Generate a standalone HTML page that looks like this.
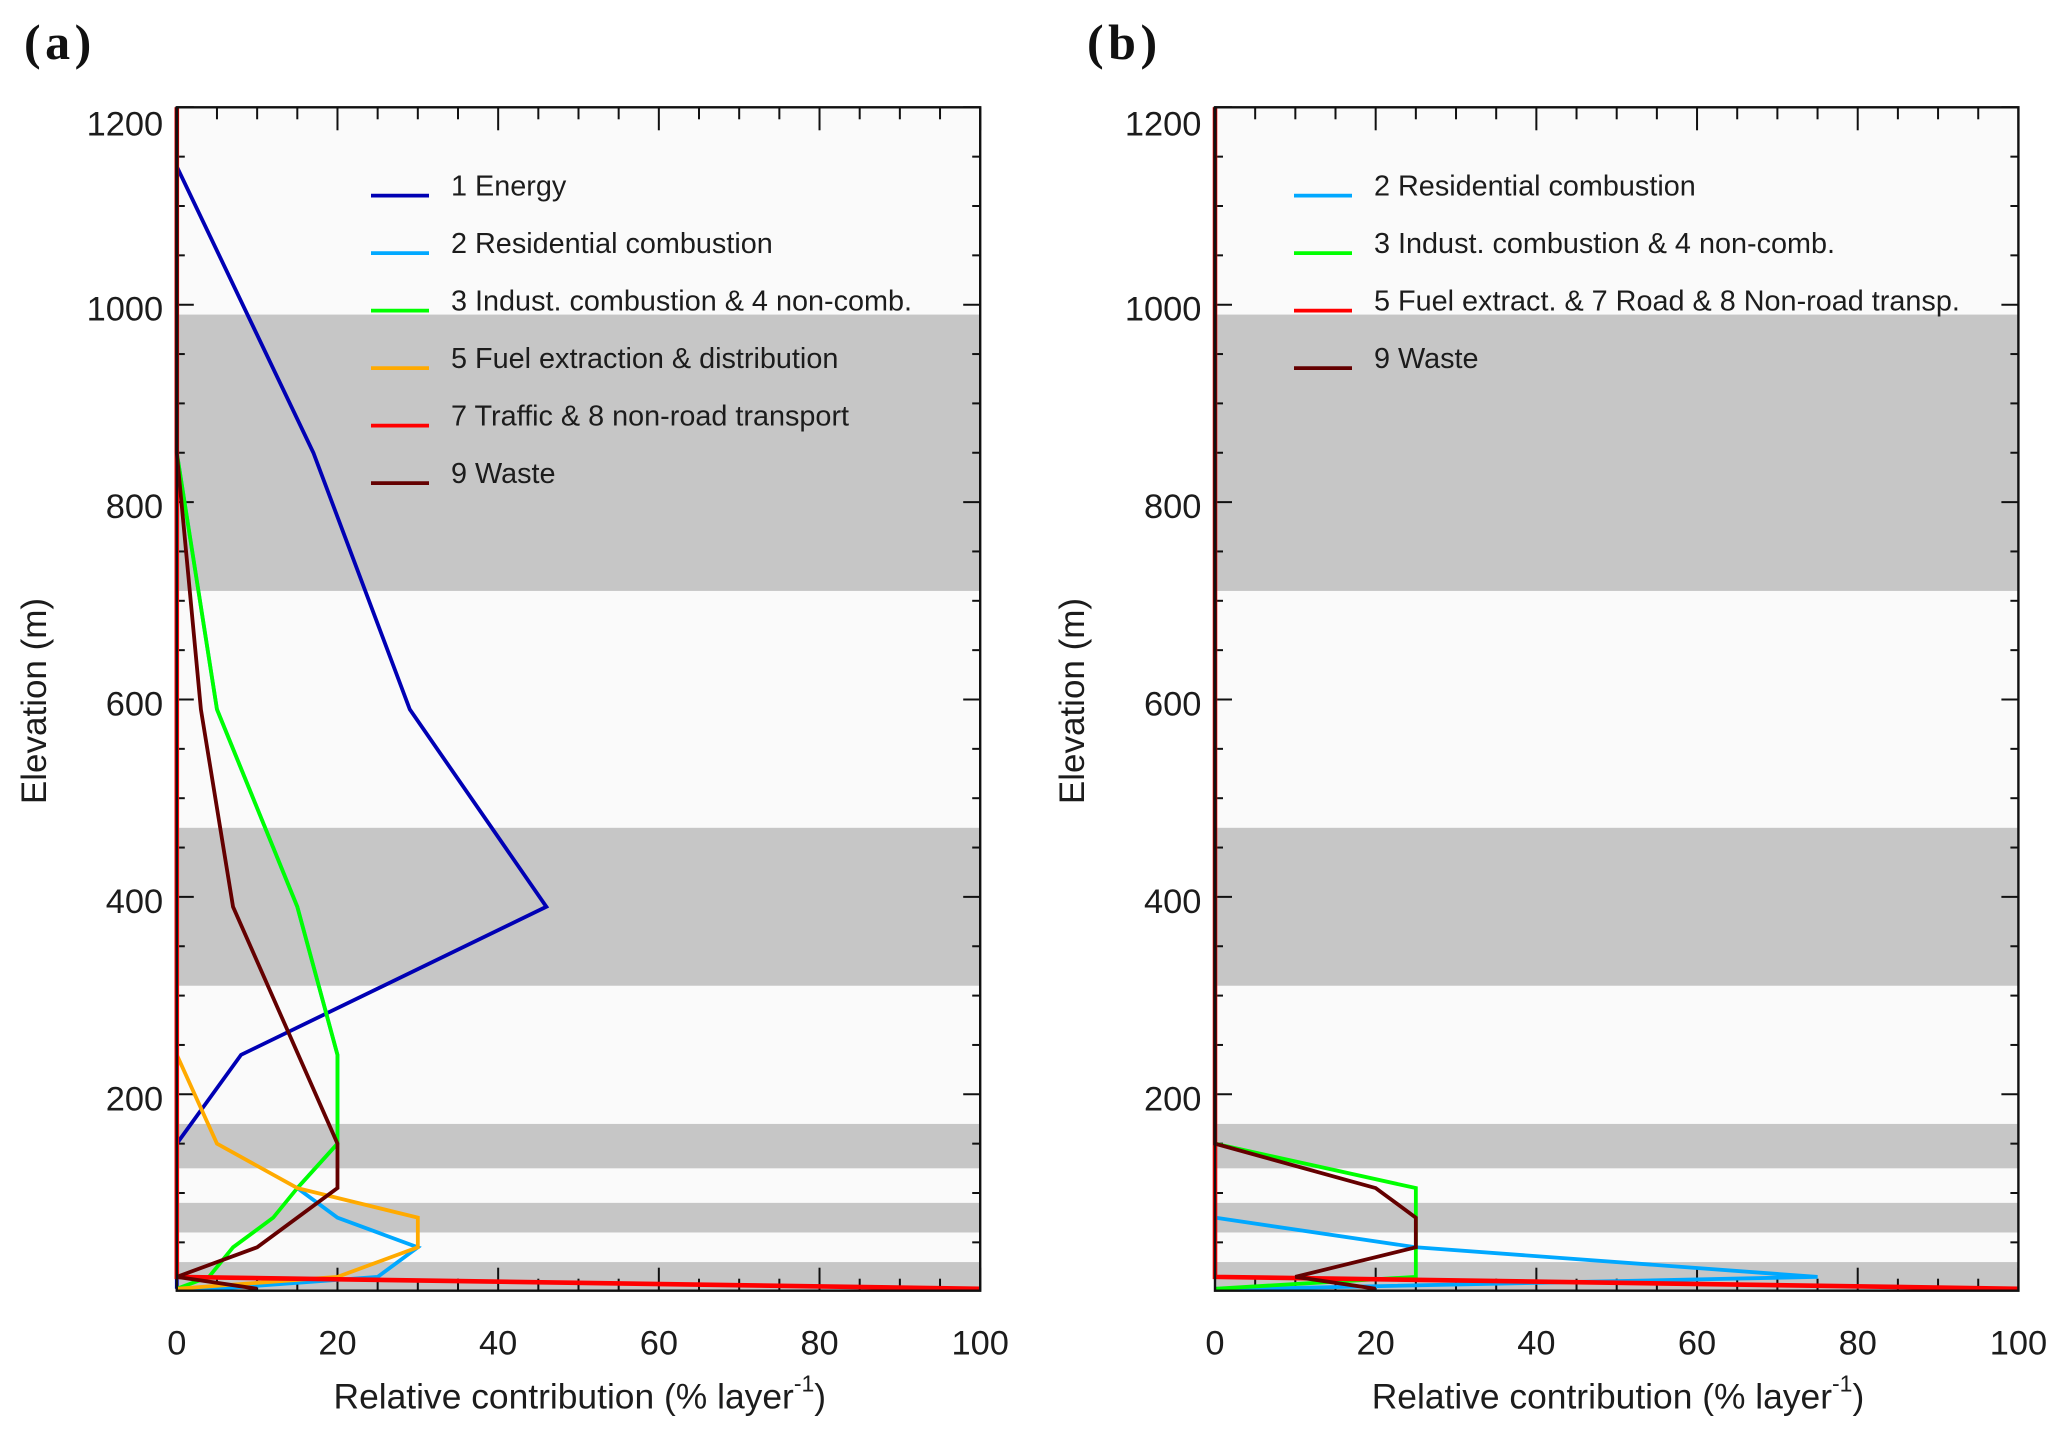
<!DOCTYPE html>
<html lang="en">
<head>
<meta charset="utf-8">
<title>Relative contribution by elevation</title>
<style>
html,body{margin:0;padding:0;background:#fff;width:2067px;height:1437px;overflow:hidden}
svg{display:block}
text{font-family:"Liberation Sans",sans-serif;fill:#1c1c1c}
</style>
</head>
<body>
<svg id="chart" xmlns="http://www.w3.org/2000/svg" width="2067" height="1437" viewBox="0 0 2067 1437"></svg>
<script>
// Shared axis data
const xMajorTicks = [0, 20, 40, 60, 80, 100];
const xMinorTicks = [5, 10, 15, 25, 30, 35, 45, 50, 55, 65, 70, 75, 85, 90, 95];
const yMajorTicks = [200, 400, 600, 800, 1000, 1200];
const yMinorTicks = [50, 100, 150, 250, 300, 350, 450, 500, 550, 650, 700, 750, 850, 900, 950, 1050, 1100, 1150];
const bandBottoms = [0, 60, 125, 310, 710];
const bandTops = [30, 90, 170, 470, 990];

// Panel (a) series: contribution (%) and elevation (m)
const aEnergyValues = [0, 17, 29, 46, 8, 0, 0];
const aEnergyElevations = [1140, 850, 590, 390, 240, 150, 3];
const aResidentialValues = [0, 5, 15, 20, 20, 15, 20, 30, 25, 5, 0];
const aResidentialElevations = [850, 590, 390, 240, 150, 105, 75, 45, 15, 3, 3];
const aIndustrialValues = [0, 5, 15, 20, 20, 15, 12, 7, 4, 0];
const aIndustrialElevations = [850, 590, 390, 240, 150, 105, 75, 45, 15, 3];
const aFuelValues = [0, 5, 15, 30, 30, 20, 0];
const aFuelElevations = [240, 150, 105, 75, 45, 15, 3];
const aTrafficValues = [0, 0, 100];
const aTrafficElevations = [1200, 15, 3];
const aWasteValues = [0, 0, 3, 7, 20, 20, 10, 0, 10];
const aWasteElevations = [1200, 850, 590, 390, 150, 105, 45, 15, 3];

// Panel (b) series
const bResidentialValues = [0, 25, 75, 5, 0];
const bResidentialElevations = [75, 45, 15, 3, 3];
const bIndustrialValues = [0, 25, 25, 0];
const bIndustrialElevations = [150, 105, 15, 3];
const bTransportValues = [0, 0, 100];
const bTransportElevations = [1200, 15, 3];
const bWasteValues = [0, 0, 20, 25, 25, 10, 20];
const bWasteElevations = [1200, 150, 105, 75, 45, 15, 3];

// Legend labels
const aLegendLabels = ["1 Energy", "2 Residential combustion", "3 Indust. combustion & 4 non-comb.", "5 Fuel extraction & distribution", "7 Traffic & 8 non-road transport", "9 Waste"];
const bLegendLabels = ["2 Residential combustion", "3 Indust. combustion & 4 non-comb.", "5 Fuel extract. & 7 Road & 8 Non-road transp.", "9 Waste"];

const NS = "http://www.w3.org/2000/svg";
const svg = document.getElementById("chart");
const C = {blue:"#0000b4", cyan:"#00a8ff", green:"#00ff00", orange:"#ffaa00", red:"#ff0000", brown:"#640000"};

const TOP = 107.3, BOTTOM = 1290.7, Y_ZERO = 1291.7, Y_PER_M = 0.987, PANEL_W = 803.4;

function yScale(v){ return Y_ZERO - v * Y_PER_M; }

function make(tag, attrs, parent){
  const el = document.createElementNS(NS, tag);
  for (const k in attrs) el.setAttribute(k, attrs[k]);
  parent.appendChild(el);
  return el;
}

function drawPanel(cfg){
  const L = cfg.left;
  const xScale = v => L + v * PANEL_W / 100;
  const g = make("g", {}, svg);
  
  

  const bg = make("rect", {x:L, y:TOP, width:PANEL_W, height:BOTTOM-TOP, fill:"#fafafa"}, g);
  
  

  bandBottoms.forEach((b, i) => {
    const yTop = yScale(bandTops[i]);
    const yBot = Math.min(yScale(b), BOTTOM);
    const band = make("rect", {x:L, y:yTop, width:PANEL_W, height:yBot-yTop, fill:"#c6c6c6"}, g);
    
    
  });

  const tickStyle = {stroke:"#111", "stroke-width":2};
  const drawXTick = (v, len) => {
    const x = xScale(v);
    const t1 = make("line", {x1:x, x2:x, y1:TOP, y2:TOP+len, ...tickStyle}, g);
    
    
    const t2 = make("line", {x1:x, x2:x, y1:BOTTOM, y2:BOTTOM-len, ...tickStyle}, g);
    
    
  };
  const drawYTick = (v, len) => {
    const y = yScale(v);
    const t1 = make("line", {x1:L, x2:L+len, y1:y, y2:y, ...tickStyle}, g);
    
    
    const t2 = make("line", {x1:L+PANEL_W, x2:L+PANEL_W-len, y1:y, y2:y, ...tickStyle}, g);
    
    
  };
  xMajorTicks.forEach(v => drawXTick(v, 23));
  xMinorTicks.forEach(v => drawXTick(v, 12));
  yMajorTicks.forEach(v => drawYTick(v, 17));
  yMinorTicks.forEach(v => drawYTick(v, 8));

  cfg.series.forEach(s => {
    const pts = s.values.map((v, i) => xScale(v).toFixed(2) + "," + yScale(s.elevations[i]).toFixed(2)).join(" ");
    const line = make("polyline", {points:pts, fill:"none", stroke:s.color, "stroke-width":s.width || 3.8, "stroke-linejoin":"miter", "stroke-miterlimit":4}, g);
    
    
  });

  const frame = make("rect", {x:L, y:TOP, width:PANEL_W, height:BOTTOM-TOP, fill:"none", stroke:"#111", "stroke-width":2.4}, g);
  
  

  xMajorTicks.forEach(v => {
    const t = make("text", {x:xScale(v), y:1354.3, "font-size":34.4, "text-anchor":"middle"}, g);
    t.textContent = String(v);
    
    
  });
  yMajorTicks.forEach(v => {
    const yy = v === 1200 ? yScale(v) + 28.3 : yScale(v) + 16;
    const t = make("text", {x:L-13.6, y:yy, "font-size":34.4, "text-anchor":"end"}, g);
    t.textContent = String(v);
    
    
  });

  const xt = make("text", {x:L + 403, y:1408.5, "font-size":35.4, "text-anchor":"middle"}, g);
  
  
  const xt1 = make("tspan", {}, xt);
  xt1.textContent = "Relative contribution (% layer";
  const xt2 = make("tspan", {dy:-17, "font-size":23}, xt);
  xt2.textContent = "-1";
  const xt3 = make("tspan", {dy:17}, xt);
  xt3.textContent = ")";

  const yx = L - 131, yy = 701;
  const yt = make("text", {x:yx, y:yy, "font-size":35, "text-anchor":"middle", transform:"rotate(-90 " + yx + " " + yy + ")"}, g);
  yt.textContent = "Elevation (m)";
  
  

  const letter = make("text", {x:cfg.letterX, y:59, "font-size":50, "font-weight":"bold", "letter-spacing":"4.5px"}, g);
  letter.setAttribute("style", "font-family:'Liberation Serif',serif;fill:#111");
  letter.textContent = cfg.letter;
  
  

  cfg.legendLabels.forEach((label, i) => {
    const rowY = 195.6 + i * 57.5;
    const sw = make("line", {x1:cfg.legendX1, x2:cfg.legendX1+58, y1:rowY, y2:rowY, stroke:cfg.legendColors[i], "stroke-width":3.8}, g);
    
    
    const t = make("text", {x:cfg.legendTextX, y:rowY, "font-size":28.8}, g);
    t.textContent = label;
    
    
  });
}

drawPanel({
  id:"a", left:176.8, letter:"(a)", letterX:24,
  legendX1:371, legendTextX:451,
  legendLabels:aLegendLabels,
  legendColors:[C.blue, C.cyan, C.green, C.orange, C.red, C.brown],
  series:[
    {name:"energy", color:C.blue, values:aEnergyValues, elevations:aEnergyElevations},
    {name:"residential", color:C.cyan, values:aResidentialValues, elevations:aResidentialElevations},
    {name:"industrial", color:C.green, values:aIndustrialValues, elevations:aIndustrialElevations},
    {name:"fuel", color:C.orange, values:aFuelValues, elevations:aFuelElevations},
    {name:"traffic", color:C.red, values:aTrafficValues, elevations:aTrafficElevations, width:4.6},
    {name:"waste", color:C.brown, values:aWasteValues, elevations:aWasteElevations}
  ]
});

drawPanel({
  id:"b", left:1215.0, letter:"(b)", letterX:1087,
  legendX1:1294, legendTextX:1374,
  legendLabels:bLegendLabels,
  legendColors:[C.cyan, C.green, C.red, C.brown],
  series:[
    {name:"residential", color:C.cyan, values:bResidentialValues, elevations:bResidentialElevations},
    {name:"industrial", color:C.green, values:bIndustrialValues, elevations:bIndustrialElevations},
    {name:"transport", color:C.red, values:bTransportValues, elevations:bTransportElevations, width:4.6},
    {name:"waste", color:C.brown, values:bWasteValues, elevations:bWasteElevations}
  ]
});
</script>
</body>
</html>
